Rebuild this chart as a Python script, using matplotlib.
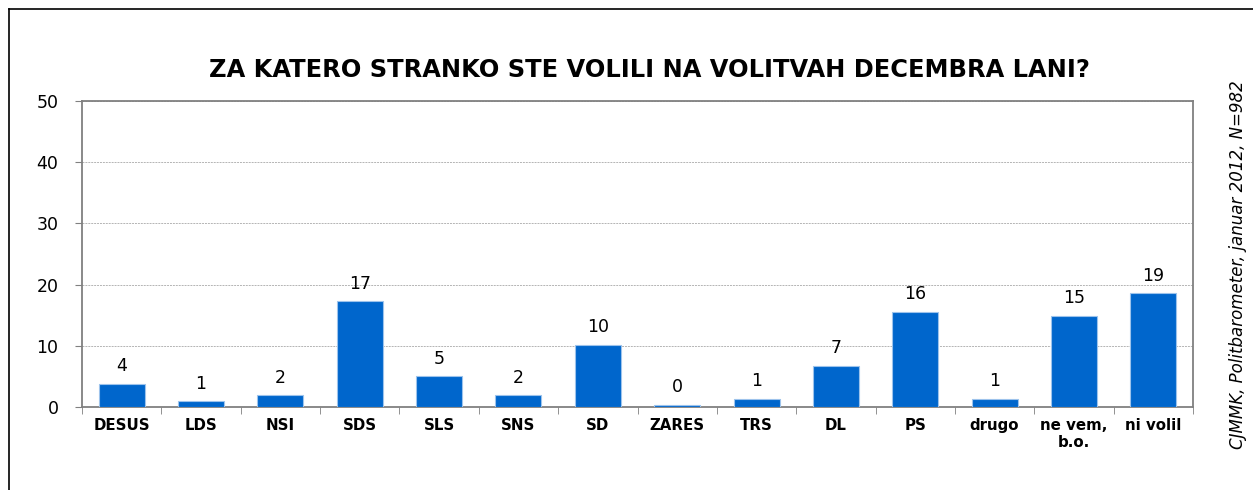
import matplotlib
matplotlib.use("Agg")
import matplotlib.pyplot as plt
from matplotlib.lines import Line2D
import numpy as np

plt.rcParams['font.family'] = ['DejaVu Sans']

# data (percent)
parties = ["DESUS", "LDS", "NSI", "SDS", "SLS", "SNS", "SD", "ZARES",
           "TRS", "DL", "PS", "drugo", "ne vem,\nb.o.", "ni volil"]
values = [3.8, 0.9, 1.9, 17.3, 5.0, 1.9, 10.2, 0.4,
          1.3, 6.7, 15.6, 1.3, 14.9, 18.6]
labels = ["4", "1", "2", "17", "5", "2", "10", "0",
          "1", "7", "16", "1", "15", "19"]
yticks = [0, 10, 20, 30, 40, 50]

fig = plt.figure(figsize=(12.53, 4.9), dpi=100)
ax = fig.add_axes([82/1253, 1-407/490, (1193-82)/1253, (407-101)/490])

x = np.arange(len(parties))
ax.bar(x, values, width=0.58, color="#0066CC", edgecolor="#9DC3EC",
       linewidth=0.8, zorder=3)
for xi, v, t in zip(x, values, labels):
    ax.text(xi, v + 1.4, t, ha="center", va="bottom", fontsize=12.5,
            color="black")

ax.set_xlim(-0.5, len(parties) - 0.5)
ax.set_ylim(0, 50)
ax.set_yticks(yticks)
ax.set_yticklabels([str(t) for t in yticks], fontsize=12.5)
ax.set_xticks(x)
ax.set_xticklabels(parties, fontsize=10.8, fontweight="bold",
                   linespacing=1.15)
ax.set_xticks(np.arange(len(parties) + 1) - 0.5, minor=True)
ax.tick_params(axis="x", which="major", length=0, pad=8)
ax.tick_params(axis="x", which="minor", length=5, color="#808080",
               direction="out")
ax.tick_params(axis="y", length=5, color="#808080", pad=12)
ax.yaxis.grid(True, color="#B4B4B4", linestyle=(0, (2, 1)), linewidth=0.7)
ax.set_axisbelow(True)
for sp in ax.spines.values():
    sp.set_color("#808080")
    sp.set_linewidth(1.3)

fig.text(649/1253, 1-70/490, "ZA KATERO STRANKO STE VOLILI NA VOLITVAH DECEMBRA LANI?",
         ha="center", va="center", fontsize=17.4, fontweight="bold")
fig.text(1238/1253, 1-265/490, "CJMMK, Politbarometer, januar 2012, N=982",
         rotation=90, ha="center", va="center", fontsize=12, style="italic")

# outer frame (left and top only visible)
fig.add_artist(Line2D([9/1253, 9/1253], [0, 1-9/490], color="black",
                      linewidth=1.2, transform=fig.transFigure))
fig.add_artist(Line2D([9/1253, 1], [1-9/490, 1-9/490], color="black",
                      linewidth=1.2, transform=fig.transFigure))

fig.savefig("out.png", dpi=100)
